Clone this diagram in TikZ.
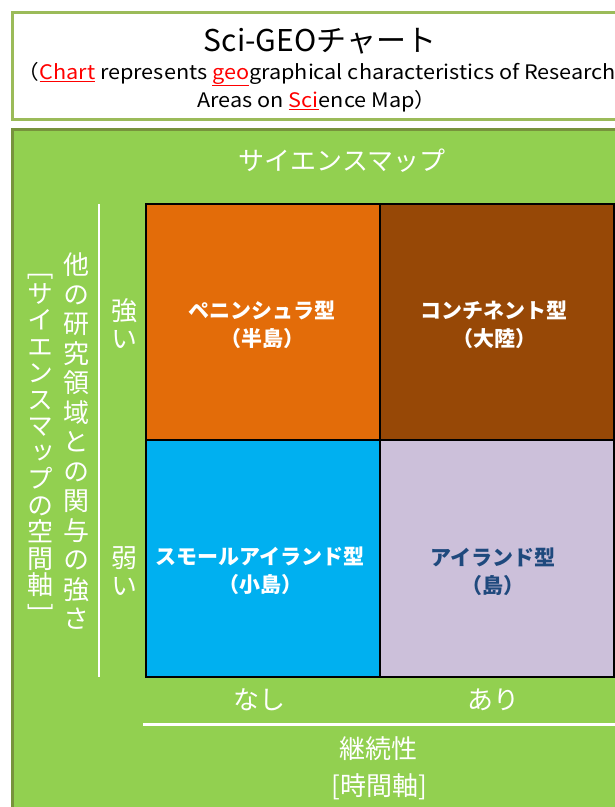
\documentclass[tikz,border=0pt]{standalone}
\usepackage{fontspec}
\setmainfont{Noto Sans CJK JP}
\newfontfamily\vjp[RawFeature=+vert]{Noto Sans CJK JP}
\definecolor{panelgreen}{HTML}{92D050}
\definecolor{paneldark}{HTML}{77933C}
\definecolor{titlegreen}{HTML}{9BBB59}
\definecolor{penorange}{HTML}{E36C09}
\definecolor{conbrown}{HTML}{974806}
\definecolor{smallblue}{HTML}{00B0F0}
\definecolor{islandlav}{HTML}{CCC0DA}
\definecolor{islandtext}{HTML}{1F497D}
\newcommand{\wideline}[1]{\scalebox{1.083}[1]{#1}}
\begin{document}
\begin{tikzpicture}[x=1pt,y=-1pt,
  cellbox/.style={draw=black, line width=1.5pt},
  celltext/.style={align=center, inner sep=0pt, font=\bfseries\fontsize{21}{28}\selectfont, text=white},
  whitelabel/.style={inner sep=0pt, text=white, font=\fontsize{26}{28}\selectfont},
  vertlabel/.style={inner sep=0pt, align=center, text=white, font=\vjp\fontsize{26}{29.5}\selectfont}]
\useasboundingbox (0,0) rectangle (615,807);
\clip (0,0) rectangle (615,807);
\fill[white] (0,0) rectangle (615,807);
% title box
\draw[draw=titlegreen, line width=3pt, fill=white] (12.5,12) rectangle (660,119);
\node[inner sep=0pt, font=\fontsize{30}{32}\selectfont] (title) at (320,41) {Sci-GEOチャート};
\node[inner sep=0pt, align=center, font=\fontsize{20}{28}\selectfont] (subtitle) at (317,87)
  {\wideline{（{\color{red}\underline{Chart}} represents {\color{red}\underline{geo}}graphical characteristics of Research}\\
   \wideline{Areas on {\color{red}\underline{Sci}}ence Map）}};
% panel
\draw[draw=paneldark, line width=3pt, fill=panelgreen] (12,129) rectangle (680,880);
% cells
\path[cellbox, fill=penorange] (146,204) rectangle (380,440);
\path[cellbox, fill=conbrown] (380,204) rectangle (614,440);
\path[cellbox, fill=smallblue] (146,440) rectangle (380,677);
\path[cellbox, fill=islandlav] (380,440) rectangle (614,677);
\node[celltext] (pen) at (262,325) {ペニンシュラ型\\（半島）};
\node[celltext] (con) at (494,325) {コンチネント型\\（大陸）};
\node[celltext] (small) at (260,571) {スモールアイランド型\\（小島）};
\node[celltext, text=islandtext] (island) at (493,572) {アイランド型\\（島）};
% axes
\coordinate (vtop) at (99,204);
\coordinate (vbot) at (99,677);
\draw[white, line width=2.5pt] (vtop) -- (vbot);
\coordinate (hleft) at (143,724);
\coordinate (hright) at (615,724);
\draw[white, line width=3pt] (hleft) -- (hright);
\node[whitelabel] (scimap) at (342,161) {サイエンスマップ};
\node[whitelabel] (nashi) at (259,700) {なし};
\node[whitelabel] (ari) at (493,700) {あり};
\node[whitelabel] (keizoku) at (378,749) {継続性};
\node[whitelabel] (jikan) at (379,787) {[時間軸]};
\node[vertlabel] (kanyo) at (76.5,441.5) {他\\の\\研\\究\\領\\域\\と\\の\\関\\与\\の\\強\\さ};
\node[vertlabel, font=\vjp\fontsize{26}{26.5}\selectfont] (kukan) at (40.5,440) {サ\\イ\\エ\\ン\\ス\\マ\\ッ\\プ\\の\\空\\間\\軸};
\node[inner sep=0pt, text=white, font=\fontsize{26}{28}\selectfont] (lbr) at (40.5,275.5) {\rotatebox{-90}{[}};
\node[inner sep=0pt, text=white, font=\fontsize{26}{28}\selectfont] (rbr) at (40.5,608) {\rotatebox{-90}{]}};
\node[vertlabel, font=\vjp\fontsize{26}{28}\selectfont] (tsuyoi) at (124,324) {強\\い};
\node[vertlabel, font=\vjp\fontsize{26}{28}\selectfont] (yowai) at (124,571) {弱\\い};
\end{tikzpicture}
\end{document}
